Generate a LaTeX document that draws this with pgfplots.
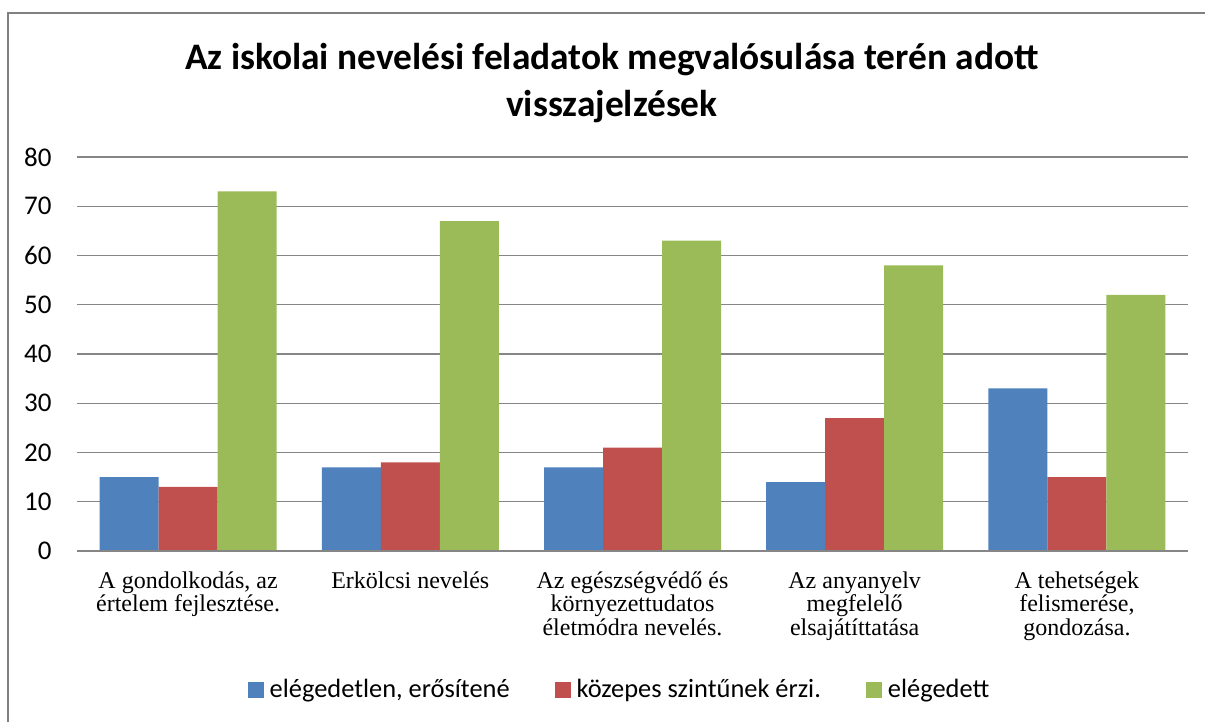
\documentclass[border=0pt]{standalone}
\usepackage{pgfplots}
\pgfplotsset{compat=1.18}
\usepackage{fontspec}
\setmainfont{Carlito}
\newfontfamily\catfont{Liberation Serif}

\definecolor{cBlue}{HTML}{4F81BD}
\definecolor{cRed}{HTML}{C0504D}
\definecolor{cGreen}{HTML}{9BBB59}
\definecolor{gridgray}{HTML}{868686}
\definecolor{framegray}{HTML}{808080}

\begin{document}
\begin{tikzpicture}
\path[use as bounding box] (0,0) rectangle (602.5pt,-361pt);
\draw[framegray, line width=1pt] (4pt,-362pt) -- (4pt,-6.5pt) -- (603pt,-6.5pt);

\node[anchor=base, font=\bfseries\fontsize{18.7}{22}\selectfont] at (306pt,-35pt)
  {Az iskolai nevelési feladatok megvalósulása terén adott};
\node[anchor=base, font=\bfseries\fontsize{18.7}{22}\selectfont] at (306pt,-58.5pt)
  {visszajelzések};

\begin{axis}[
    at={(38.5pt,-275.5pt)}, anchor=south west,
    scale only axis,
    width=555.5pt, height=197pt,
    ybar=0pt,
    bar width=29.5pt,
    xmin=-0.5, xmax=4.5,
    ymin=0, ymax=80,
    ytick={0,10,...,80},
    xtick=data,
    xticklabels={{A gondolkodás, az\\értelem fejlesztése.},
                 {Erkölcsi nevelés},
                 {Az egészségvédő és\\környezettudatos\\életmódra nevelés.},
                 {Az anyanyelv\\megfelelő\\elsajátíttatása},
                 {A tehetségek\\felismerése,\\gondozása.}},
    axis line style={draw=none},
    major tick length=0pt,
    ymajorgrids,
    major grid style={gridgray, line width=0.65pt},
    yticklabel={\fontsize{13.5}{15}\selectfont\pgfmathprintnumber[assume math mode=true]{\tick}},
    yticklabel style={anchor=east, inner sep=0pt, xshift=-12.5pt},
    xticklabel style={font=\catfont\fontsize{12}{11.6}\selectfont, align=center, anchor=north, inner sep=0pt, yshift=-10.3pt},
    legend columns=-1,
    legend style={at={(axis description cs:0.4874,0)}, anchor=center, yshift=-69.5pt,
        draw=none, fill=none, font=\fontsize{13.2}{15}\selectfont,
        nodes={inner sep=0pt},
        /tikz/every odd column/.append style={column sep=3pt},
        /tikz/every even column/.append style={column sep=22.5pt}},
    legend image code/.code={\fill[#1] (0pt,-4.2pt) rectangle (8pt,3.8pt);},
]
\addplot[fill=cBlue, draw=none] coordinates {(0,15) (1,17) (2,17) (3,14) (4,33)};
\addplot[fill=cRed, draw=none] coordinates {(0,13) (1,18) (2,21) (3,27) (4,15)};
\addplot[fill=cGreen, draw=none] coordinates {(0,73) (1,67) (2,63) (3,58) (4,52)};
\legend{{elégedetlen, erősítené}, {közepes szintűnek érzi.}, {elégedett}}
\draw[gridgray, line width=1pt] (rel axis cs:0,0) -- (rel axis cs:1,0);
\end{axis}
\end{tikzpicture}
\end{document}
